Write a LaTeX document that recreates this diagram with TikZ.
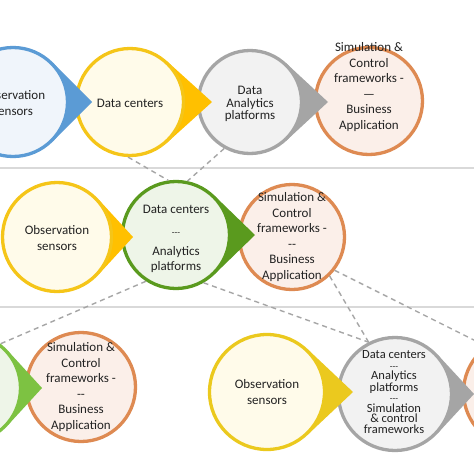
\documentclass[tikz,border=0pt]{standalone}
\usepackage{fontspec}
\setmainfont{Carlito}
\usetikzlibrary{calc}
\definecolor{bluec}{HTML}{5B9BD5}
\definecolor{bluef}{HTML}{F0F5FB}
\definecolor{yelc}{HTML}{F5C518}
\definecolor{yelt}{HTML}{FFC000}
\definecolor{yelf}{HTML}{FFFBEA}
\definecolor{lemc}{HTML}{EBC91E}
\definecolor{grayc}{HTML}{A5A5A5}
\definecolor{grayf}{HTML}{F2F2F2}
\definecolor{orc}{HTML}{DE8A52}
\definecolor{orf}{HTML}{FBEFE9}
\definecolor{grnc}{HTML}{5A9A1E}
\definecolor{grnf}{HTML}{EEF5E8}
\definecolor{ltgrnc}{HTML}{7DC242}
\definecolor{sepc}{HTML}{D9D9D9}
\definecolor{dashc}{HTML}{A6A6A6}
\definecolor{txt}{HTML}{222222}
\tikzset{
  ring/.style={circle, inner sep=0pt, line width=3.3pt},
  lbl/.style={align=center, font=\fontsize{13}{15.5}\selectfont, text=txt, inner sep=0pt},
  rowline/.style={draw=sepc, line width=2.5pt},
  link/.style={draw=dashc, line width=1.4pt, dash pattern=on 5pt off 4pt},
}
\newcommand\smalldash{{\fontsize{9}{9}\selectfont -{}-{}-}}
\newcommand\dropshape[8]{% name, x, y, r, tipdist, stroke, fill, tipcolor
  \pgfmathsetmacro\dropang{acos(#4/#5)}
  \fill[#8, shift={(#2,#3)}] (\dropang:#4) -- (#5,0) -- (-\dropang:#4) -- cycle;
  \node[ring, draw=#6, fill=#7, minimum size={2*#4pt-3pt}] (#1) at (#2,#3) {};
}
\begin{document}
\begin{tikzpicture}[x=1pt,y=-1pt]
\useasboundingbox (0,0) rectangle (474,474);
\clip (0,0) rectangle (474,474);
\fill[white] (0,0) rectangle (474,474);
% separators
\coordinate (s1l) at (0,168); \coordinate (s1r) at (474,168);
\coordinate (s2l) at (0,307); \coordinate (s2r) at (474,307);
\draw[rowline] (s1l) -- (s1r);
\draw[rowline] (s2l) -- (s2r);
% ---------- row 1 (right to left)
\node[ring, draw=orc, fill=orf, minimum size=107pt] (or1) at (369,101) {};
\node[lbl] (or1t) at (369,87) {Simulation \&\\Control\\frameworks -\\—\\Business\\Application};
\dropshape{gr1}{250}{102}{53}{78}{grayc}{grayf}{grayc}
\node[lbl, font=\fontsize{13}{12.5}\selectfont] (gr1t) at (250,104) {Data\\Analytics\\platforms};
\dropshape{ye1}{130}{102}{55}{82}{yelc}{yelf}{yelt}
\node[lbl] (ye1t) at (130,103) {Data centers};
\dropshape{bl1}{13}{102}{56}{79}{bluec}{bluef}{bluec}
\node[lbl] (bl1t) at (13,103) {Observation\\sensors};
% ---------- row 2
\node[ring, draw=orc, fill=orf, minimum size=105pt] (or2) at (292,237) {};
\node[lbl] (or2t) at (292,237) {Simulation \&\\Control\\frameworks -\\-{}-\\Business\\Application};
\dropshape{gn2}{176}{235}{55}{79}{grnc}{grnf}{grnc}
\node[lbl] (gn2t) at (176,239) {Data centers\\[7pt]\smalldash\\[4pt]Analytics\\platforms};
\dropshape{ye2}{57}{237}{56}{76}{yelc}{yelf}{yelt}
\node[lbl] (ye2t) at (57,238) {Observation\\sensors};
% ---------- row 3
\node[ring, draw=orc, fill=orf, minimum size=111pt] (or3r) at (519,392) {};
\dropshape{gr3}{395}{394}{58}{79}{grayc}{grayf}{grayc}
\node[lbl, font=\fontsize{12.5}{10.4}\selectfont] (gr3t) at (394,392) {Data centers\\\smalldash\\Analytics\\platforms\\\smalldash\\Simulation\\\& control\\frameworks};
\dropshape{ye3}{267}{392}{59}{86}{lemc}{yelf}{lemc}
\node[lbl] (ye3t) at (267,392) {Observation\\sensors};
\node[ring, draw=orc, fill=orf, minimum size=109pt] (or3) at (81,387) {};
\node[lbl] (or3t) at (81,387) {Simulation \&\\Control\\frameworks -\\-{}-\\Business\\Application};
\dropshape{gn3}{-34}{388}{56}{76}{ltgrnc}{grnf}{ltgrnc}
% ---------- dashed links
\draw[link] (ye1.268) -- (gn2.98);
\draw[link] (gr1.241) -- (gn2.78);
\draw[link] (gn2.237) -- (gn3.52);
\draw[link] (gn2.300) -- (gr3.117);
\draw[link] (or2.314) -- (gr3.117);
\draw[link] (or2.322) -- (or3r.126);
\end{tikzpicture}
\end{document}
